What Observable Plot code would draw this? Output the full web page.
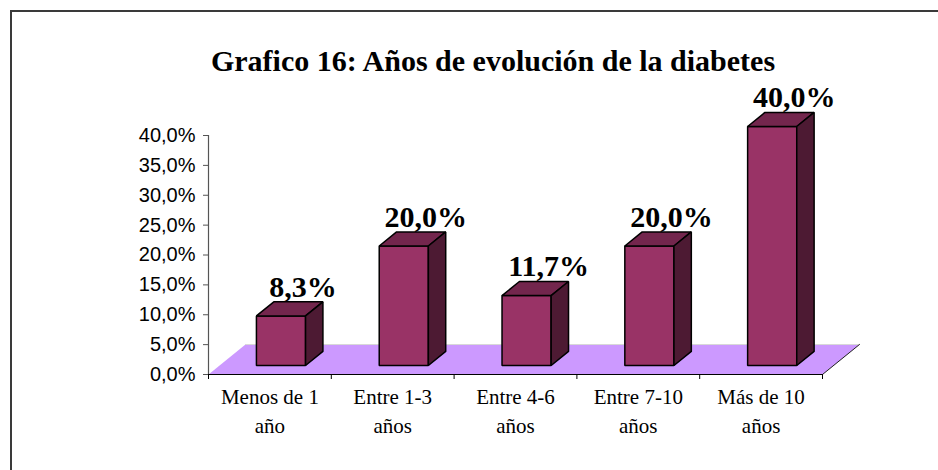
<!DOCTYPE html>
<html><head><meta charset="utf-8">
<script src="https://cdn.jsdelivr.net/npm/d3@7"></script>
<script src="https://cdn.jsdelivr.net/npm/@observablehq/plot@0.6"></script>
<style>
html,body{margin:0;padding:0;background:#fff;width:938px;height:470px;overflow:hidden;}
#frame{position:absolute;left:10px;top:10px;width:1000px;height:1000px;border:2px solid #3a3a3a;pointer-events:none;}
#title{position:absolute;left:0;top:0;width:938px;height:80px;}
#title span{position:absolute;left:493px;transform:translateX(-50%);top:46px;line-height:30px;white-space:nowrap;font-weight:bold;font-size:30px;font-family:"Liberation Serif","Times New Roman",serif;color:#000;}
#chart{position:absolute;left:0;top:80px;}
</style></head><body>
<div id="title"><span>Grafico 16: Años de evolución de la diabetes</span></div>
<div id="chart"></div>
<div id="frame"></div>
<script>
const categories = ["Menos de 1\naño", "Entre 1-3\naños", "Entre 4-6\naños", "Entre 7-10\naños", "Más de 10\naños"];
const values = [8.3, 20.0, 11.7, 20.0, 40.0];
const yTicks = [0, 5, 10, 15, 20, 25, 30, 35, 40];

// oblique projection of the depth axis (in data units)
const DX = 0.301, DY = 5.02;
const Z0 = 0.3, Z1 = 0.77, B0 = 0.3, B1 = 0.7;
const n = categories.length;
const proj = (id, pts) => pts.map(([x, y, z], k) => ({id, k, x: x + z * DX, y: y + z * DY}));

const floor = proj("floor", [[0,0,0],[n,0,0],[n,0,1],[0,0,1]]);
const backEdge = proj("back", [[0,0,1],[n,0,1]]);
const rightEdge = proj("right", [[n,0,0],[n,0,1]]);
const fronts = values.flatMap((v, i) => proj(i, [[i+B0,0,Z0],[i+B1,0,Z0],[i+B1,v,Z0],[i+B0,v,Z0]]));
const tops = values.flatMap((v, i) => proj(i, [[i+B0,v,Z0],[i+B1,v,Z0],[i+B1,v,Z1],[i+B0,v,Z1]]));
const sides = values.flatMap((v, i) => proj(i, [[i+B1,0,Z0],[i+B1,0,Z1],[i+B1,v,Z1],[i+B1,v,Z0]]));
const fmt = v => v.toFixed(1).replace(".", ",") + "%";
const face = {x: "x", y: "y", z: "id", stroke: "#000", strokeWidth: 1.5, strokeLinejoin: "miter", curve: "linear-closed"};

const chart = Plot.plot({
  width: 938, height: 390,
  marginLeft: 208, marginRight: 116, marginTop: 55, marginBottom: 96,
  x: {domain: [0, n], label: null},
  y: {domain: [0, 40], label: null},
  style: {fontFamily: "'Liberation Sans', Arial, sans-serif", fontSize: "20px", color: "#000", background: "transparent", overflow: "visible"},
  marks: [
    Plot.line(floor, {x: "x", y: "y", z: "id", fill: "#cc99ff", stroke: "none", curve: "linear-closed"}),
    Plot.line(backEdge, {x: "x", y: "y", stroke: "#d8d8d8", strokeWidth: 1}),
    Plot.line(rightEdge, {x: "x", y: "y", stroke: "#222", strokeWidth: 1}),
    Plot.ruleX([0], {y1: 0, y2: 40, stroke: "#555", strokeWidth: 1.2}),
    Plot.axisY({ticks: yTicks, tickFormat: fmt, tickSize: 5, tickPadding: 8, fontSize: 20, stroke: "#555", label: null}),
    Plot.ruleY([0], {x1: 0, x2: n, stroke: "#000", strokeWidth: 1.2}),
    Plot.axisX({ticks: d3.range(0, n + 1), tickSize: 5, tickFormat: () => "", label: null}),
    Plot.text(categories, {x: (d, i) => i + 0.5, y: 0, text: d => d, lineAnchor: "top", dy: 9, lineHeight: 1.38, fontSize: 21, fontFamily: "'Liberation Serif', 'Times New Roman', serif", fill: "#000"}),
    Plot.line(fronts, {...face, fill: "#993366"}),
    Plot.line(tops, {...face, fill: "#73264d"}),
    Plot.line(sides, {...face, fill: "#4d1a33"}),
    Plot.text(values, {x: (d, i) => i + 0.5 + 0.27, y: d => d + Z1 * DY, text: fmt, lineAnchor: "bottom", dy: -5, fontSize: 30, fontWeight: "bold", fontFamily: "'Liberation Serif', 'Times New Roman', serif", fill: "#000"})
  ]
});
document.getElementById("chart").appendChild(chart);
</script>
</body></html>
